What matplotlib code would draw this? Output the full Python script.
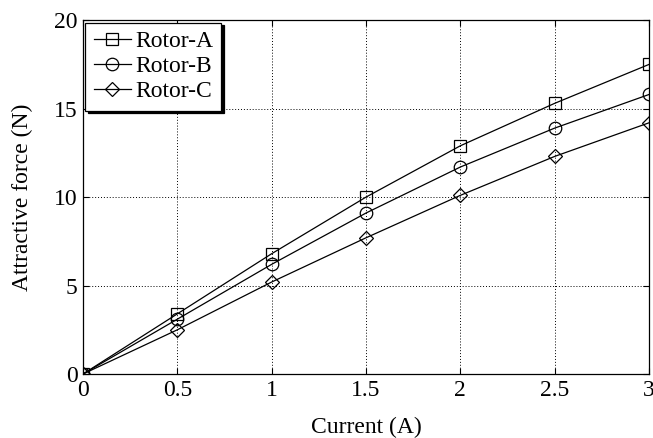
import matplotlib
matplotlib.use("Agg")
import matplotlib.pyplot as plt

plt.rcParams["font.family"] = ["Liberation Serif", "DejaVu Serif"]
plt.rcParams["mathtext.fontset"] = "stix"

current = [0, 0.5, 1, 1.5, 2, 2.5, 3]
force_a = [0, 3.4, 6.8, 10.0, 12.9, 15.3, 17.5]
force_b = [0, 3.1, 6.2, 9.1, 11.7, 13.9, 15.8]
force_c = [0, 2.5, 5.2, 7.7, 10.1, 12.3, 14.2]
series = [("Rotor-A", force_a, "s"), ("Rotor-B", force_b, "o"), ("Rotor-C", force_c, "D")]
xticks = [0, 0.5, 1, 1.5, 2, 2.5, 3]
xtick_labels = ["0", "0.5", "1", "1.5", "2", "2.5", "3"]
yticks = [0, 5, 10, 15, 20]

fig = plt.figure(figsize=(6.53, 4.38), dpi=100)
ax = fig.add_axes([0.127, 0.146, 0.867, 0.808])

for name, vals, mk in series:
    ms = 9 if mk != "D" else 7
    ax.plot(current, vals, color="black", lw=0.9, marker=mk, markersize=ms,
            markerfacecolor="none", markeredgecolor="black", markeredgewidth=0.9,
            label=name)

ax.set_xlim(0, 3)
ax.set_ylim(0, 20)
ax.set_xticks(xticks)
ax.set_xticklabels(xtick_labels)
ax.set_yticks(yticks)
ax.grid(True, color="black", linestyle=(0, (1, 2)), linewidth=0.7)
ax.tick_params(direction="in", top=True, right=True, labelsize=17, length=4, pad=4)
for s in ax.spines.values():
    s.set_linewidth(0.9)
ax.set_xlabel("Current (A)", fontsize=17, labelpad=12)
ax.set_ylabel("Attractive force (N)", fontsize=17, labelpad=15)

leg = ax.legend(loc="upper left", fontsize=17, fancybox=False,
                shadow={"color": "black", "alpha": 1, "ox": 2, "oy": -2},
                edgecolor="black", framealpha=1, handlelength=1.6,
                handletextpad=0.15, labelspacing=0.15, borderpad=0.35,
                borderaxespad=0.1)
leg.get_frame().set_linewidth(0.9)

fig.savefig("out.png", dpi=100)
